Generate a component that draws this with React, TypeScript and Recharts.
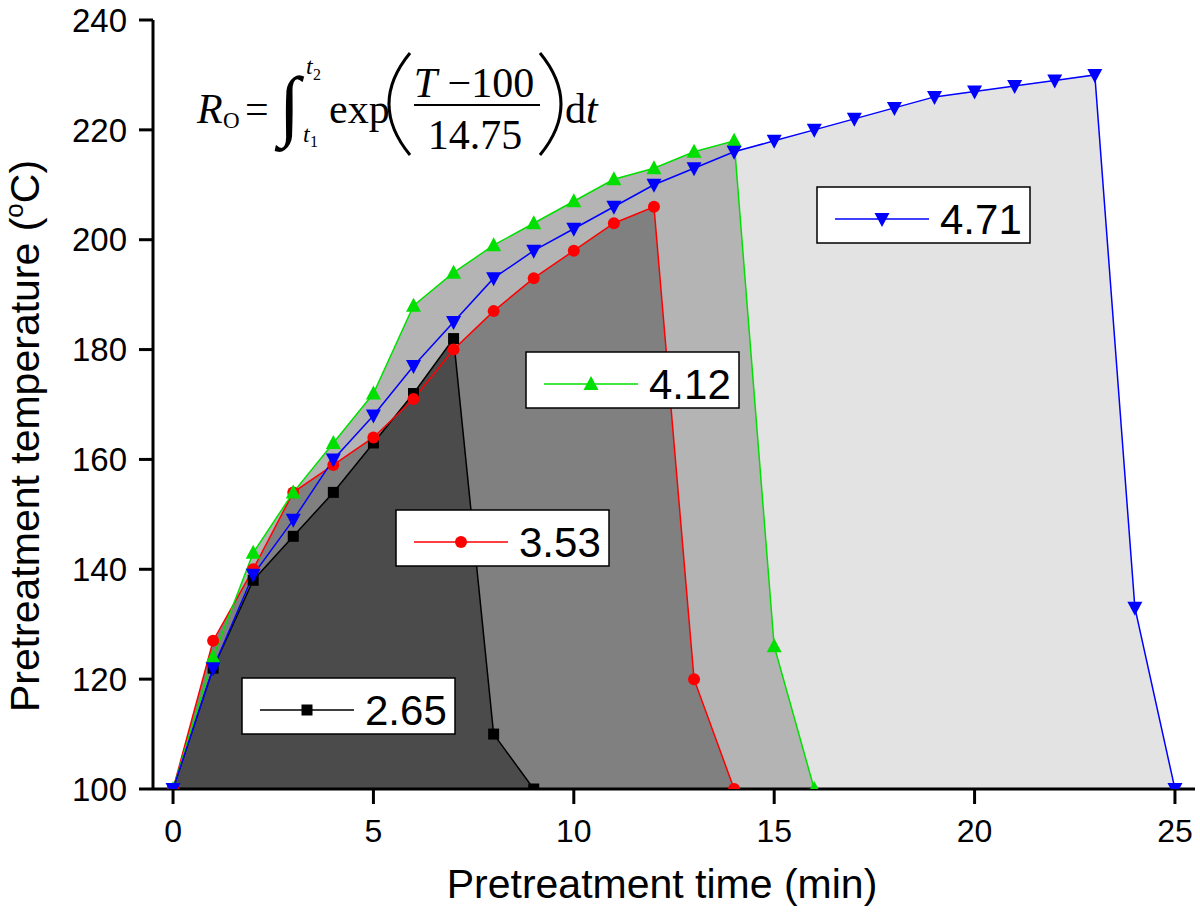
import React from 'react';
import { ComposedChart, Area, Line, XAxis, YAxis } from 'recharts';

// Pretreatment time (min)
const times = [0, 1, 2, 3, 4, 5, 6, 7, 8, 9, 10, 11, 12, 13, 14, 15, 16, 17, 18, 19, 20, 21, 22, 23, 24, 25];
// Pretreatment temperature (°C) for each severity factor
const temp265 = [100, 122, 138, 146, 154, 163, 172, 182, 110, 100];
const temp353 = [100, 127, 140, 154, 159, 164, 171, 180, 187, 193, 198, 203, 206, 120, 100];
const temp412 = [100, 124, 143, 154, 163, 172, 188, 194, 199, 203, 207, 211, 213, 216, 218, 126, 100];
const temp471 = [100, 122, 139, 149, 160, 168, 177, 185, 193, 198, 202, 206, 210, 213, 216, 218, 220, 222, 224, 226, 227, 228, 229, 230, 133, 100];

const seriesLabels = ['2.65', '3.53', '4.12', '4.71'];
const xMajorTicks = [0, 5, 10, 15, 20, 25];
const xMinorTicks = [2.5, 7.5, 12.5, 17.5, 22.5];
const yMajorTicks = [100, 120, 140, 160, 180, 200, 220, 240];
const yMinorTicks = [110, 130, 150, 170, 190, 210, 230];

const data = times.map((t, i) => ({
  t,
  s265: temp265[i] ?? null,
  s353: temp353[i] ?? null,
  s412: temp412[i] ?? null,
  s471: temp471[i] ?? null,
}));

const SANS = '"Liberation Sans", Arial, Helvetica, sans-serif';
const SERIF = '"Liberation Serif", "Times New Roman", serif';

const COLORS = {
  s265: '#000000',
  s353: '#ff0000',
  s412: '#00e000',
  s471: '#0000ff',
};
const FILLS = {
  s265: '#4b4b4b',
  s353: '#808080',
  s412: '#b4b4b4',
  s471: '#e3e3e3',
};

type MarkerKind = 'square' | 'circle' | 'up' | 'down';

const marker = (kind: MarkerKind, cx: number, cy: number, color: string, key?: string) => {
  if (kind === 'square') return <rect key={key} x={cx - 5.5} y={cy - 5.5} width={11} height={11} fill={color} />;
  if (kind === 'circle') return <circle key={key} cx={cx} cy={cy} r={6} fill={color} />;
  if (kind === 'up')
    return <polygon key={key} points={`${cx},${cy - 8} ${cx - 7.5},${cy + 6} ${cx + 7.5},${cy + 6}`} fill={color} />;
  return <polygon key={key} points={`${cx - 7.5},${cy - 6} ${cx + 7.5},${cy - 6} ${cx},${cy + 8}`} fill={color} />;
};

const makeDot = (kind: MarkerKind, color: string, id: string) => (props: any) => {
  const { cx, cy, index } = props;
  const key = `${id}-${index}`;
  if (cx == null || cy == null || Number.isNaN(cx) || Number.isNaN(cy) || props.value == null) return <g key={key} />;
  return marker(kind, cx, cy, color, key);
};

const emptyTick = () => <g />;

const legendBoxes = [
  { label: seriesLabels[0], kind: 'square' as MarkerKind, color: COLORS.s265, x: 242, y: 678 },
  { label: seriesLabels[1], kind: 'circle' as MarkerKind, color: COLORS.s353, x: 396, y: 510 },
  { label: seriesLabels[2], kind: 'up' as MarkerKind, color: COLORS.s412, x: 526, y: 352 },
  { label: seriesLabels[3], kind: 'down' as MarkerKind, color: COLORS.s471, x: 817, y: 187 },
];

const axisLine = { stroke: '#000', strokeWidth: 3 };
const tickLine = { stroke: '#000', strokeWidth: 3 };

export default function App() {
  return (
    <div style={{ position: 'absolute', left: 0, top: 0, width: 1200, height: 921, background: '#fff' }}>
      <ComposedChart
        width={1200}
        height={921}
        data={data}
        margin={{ top: 20, right: 5, bottom: 0, left: 0 }}
      >
        <XAxis
          dataKey="t"
          type="number"
          domain={[-0.5, 25.5]}
          allowDataOverflow
          ticks={xMajorTicks}
          interval={0}
          height={132}
          tickSize={15}
          tickMargin={15}
          axisLine={axisLine}
          tickLine={tickLine}
          tick={{ fontSize: 32, fill: '#000', fontFamily: SANS }}
        />
        <XAxis
          xAxisId="minor"
          dataKey="t"
          type="number"
          domain={[-0.5, 25.5]}
          allowDataOverflow
          ticks={xMinorTicks}
          interval={0}
          height={0}
          tickSize={9}
          axisLine={false}
          tickLine={tickLine}
          tick={emptyTick}
        />
        <XAxis
          xAxisId="top"
          orientation="top"
          dataKey="t"
          type="number"
          domain={[-0.5, 25.5]}
          allowDataOverflow
          height={0}
          axisLine={axisLine}
          tickLine={false}
          tick={false}
        />
        <YAxis
          type="number"
          domain={[100, 240]}
          allowDataOverflow
          ticks={yMajorTicks}
          interval={0}
          width={153}
          tickSize={14}
          tickMargin={12}
          axisLine={axisLine}
          tickLine={tickLine}
          tick={{ fontSize: 33, fill: '#000', fontFamily: SANS }}
        />
        <YAxis
          yAxisId="minor"
          type="number"
          domain={[100, 240]}
          allowDataOverflow
          ticks={yMinorTicks}
          interval={0}
          width={0}
          tickSize={8}
          axisLine={false}
          tickLine={tickLine}
          tick={emptyTick}
        />
        <YAxis
          yAxisId="right"
          orientation="right"
          type="number"
          domain={[100, 240]}
          allowDataOverflow
          width={0}
          axisLine={axisLine}
          tickLine={false}
          tick={false}
        />

        <Area type="linear" dataKey="s471" baseValue="dataMin" fill={FILLS.s471} fillOpacity={1} stroke="none" dot={false} activeDot={false} isAnimationActive={false} />
        <Area type="linear" dataKey="s412" baseValue="dataMin" fill={FILLS.s412} fillOpacity={1} stroke="none" dot={false} activeDot={false} isAnimationActive={false} />
        <Area type="linear" dataKey="s353" baseValue="dataMin" fill={FILLS.s353} fillOpacity={1} stroke="none" dot={false} activeDot={false} isAnimationActive={false} />
        <Area type="linear" dataKey="s265" baseValue="dataMin" fill={FILLS.s265} fillOpacity={1} stroke="none" dot={false} activeDot={false} isAnimationActive={false} />

        <Line type="linear" dataKey="s265" stroke={COLORS.s265} strokeWidth={1.5} dot={makeDot('square', COLORS.s265, 'a')} activeDot={false} isAnimationActive={false} />
        <Line type="linear" dataKey="s353" stroke={COLORS.s353} strokeWidth={1.5} dot={makeDot('circle', COLORS.s353, 'b')} activeDot={false} isAnimationActive={false} />
        <Line type="linear" dataKey="s412" stroke={COLORS.s412} strokeWidth={1.5} dot={makeDot('up', COLORS.s412, 'c')} activeDot={false} isAnimationActive={false} />
        <Line type="linear" dataKey="s471" stroke={COLORS.s471} strokeWidth={1.5} dot={makeDot('down', COLORS.s471, 'd')} activeDot={false} isAnimationActive={false} />
      </ComposedChart>

      <svg width={1200} height={921} style={{ position: 'absolute', left: 0, top: 0, pointerEvents: 'none' }}>
        {/* legend boxes */}
        {legendBoxes.map((b) => (
          <g key={b.label}>
            <rect x={b.x} y={b.y} width={213} height={56} fill="#fff" stroke="#000" strokeWidth={1.5} />
            <line x1={b.x + 18} x2={b.x + 112} y1={b.y + 32} y2={b.y + 32} stroke={b.color} strokeWidth={1.5} />
            {marker(b.kind, b.x + 65, b.y + 32, b.color)}
            <text x={b.x + 123} y={b.y + 47} fontSize={42} fontFamily={SANS} fill="#000">{b.label}</text>
          </g>
        ))}

        {/* axis titles */}
        <text x={662} y={898} textAnchor="middle" fontSize={41} fontFamily={SANS} fill="#000">Pretreatment time (min)</text>
        <text x={39} y={436} textAnchor="middle" fontSize={41} fontFamily={SANS} fill="#000" transform="rotate(-90 39 436)">
          Pretreatment temperature (<tspan fontSize={26} dy={-16}>o</tspan><tspan dy={16}>C)</tspan>
        </text>

        {/* formula */}
        <g fontFamily={SERIF} fill="#000">
          <text x={197} y={123} fontSize={42} fontStyle="italic">R</text>
          <text x={223} y={128} fontSize={23}>O</text>
          <text x={245} y={123} fontSize={42}>=</text>
          <text x={279} y={131} fontSize={78}>∫</text>
          <text x={306} y={74} fontSize={24} fontStyle="italic">t</text>
          <text x={313} y={80} fontSize={16}>2</text>
          <text x={303} y={142} fontSize={24} fontStyle="italic">t</text>
          <text x={310} y={147} fontSize={16}>1</text>
          <text x={329} y={123} fontSize={42}>exp</text>
          <path d="M 410 53 Q 368 104 410 155" fill="none" stroke="#000" strokeWidth={3} />
          <text x={474} y={97} fontSize={42} textAnchor="middle"><tspan fontStyle="italic">T</tspan> −100</text>
          <line x1={414} x2={540} y1={105} y2={105} stroke="#000" strokeWidth={2} />
          <text x={475} y={149} fontSize={42} textAnchor="middle">14.75</text>
          <path d="M 540 53 Q 582 104 540 155" fill="none" stroke="#000" strokeWidth={3} />
          <text x={565} y={123} fontSize={42}>d<tspan fontStyle="italic">t</tspan></text>
        </g>
      </svg>
    </div>
  );
}
